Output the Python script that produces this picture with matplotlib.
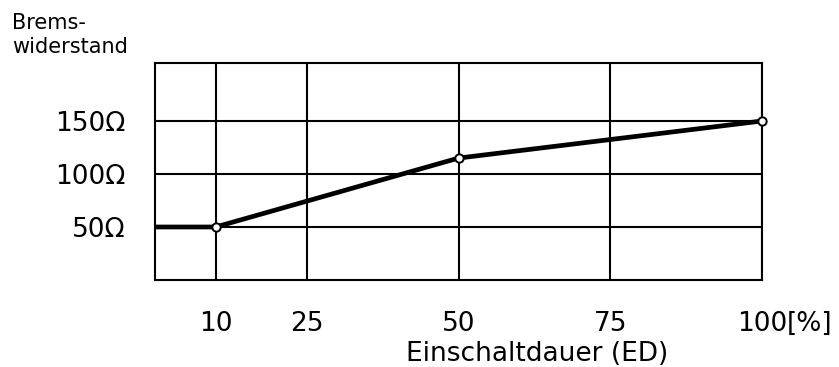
import matplotlib
matplotlib.use("Agg")
import matplotlib.pyplot as plt

# Data
ed_percent = [0, 10, 50, 100]
resistance = [50, 50, 115, 150]
marker_x = [10, 50, 100]
marker_y = [50, 115, 150]
x_ticks = [10, 25, 50, 75, 100]
x_ticklabels = ["10", "25", "50", "75", "100"]
y_ticks = [50, 100, 150]
y_ticklabels = ["50Ω", "100Ω", "150Ω"]

W, H = 839, 367
fs = 19
fig = plt.figure(figsize=(W / 100, H / 100), dpi=100)
ax = fig.add_axes([155 / W, 1 - 280 / H, (762 - 155) / W, (280 - 63) / H])
ax.set_xlim(0, 100)
ax.set_ylim(0, 204.7)

lw_grid = 1.5
for s in ax.spines.values():
    s.set_linewidth(lw_grid)
ax.set_xticks(x_ticks)
ax.set_xticklabels(x_ticklabels)
ax.set_yticks(y_ticks)
ax.set_yticklabels(y_ticklabels)
ax.tick_params(length=0, labelsize=fs, colors="black")
ax.tick_params(axis="x", pad=22)
ax.tick_params(axis="y", pad=21)
ax.grid(True, color="black", linewidth=lw_grid)
ax.set_axisbelow(True)

ax.plot(ed_percent, resistance, color="black", linewidth=3.4, solid_capstyle="butt", zorder=3)
ax.plot(marker_x, marker_y, linestyle="none", marker="o", markersize=6,
        markerfacecolor="white", markeredgecolor="black", markeredgewidth=1.4,
        zorder=4, clip_on=False)

# "[%]" after the 100 label
ax.annotate("[%]", xy=(100, 0), xycoords="data", xytext=(1.5 * 0.636 * fs, -22),
            textcoords="offset points", ha="left", va="top", fontsize=fs)

fig.text(537 / W, 1 - 354 / H, "Einschaltdauer (ED)", ha="center", va="center", fontsize=fs)
fig.text(12 / W, 1 - 35 / H, "Brems-\nwiderstand", ha="left", va="center",
         fontsize=15, linespacing=1.2)

fig.savefig("out.png", dpi=100)
